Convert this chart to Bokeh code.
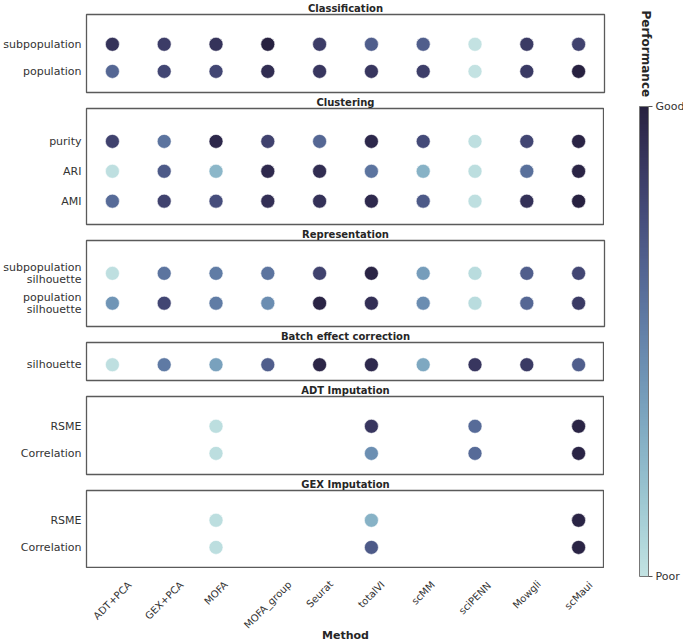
import math
from bokeh.plotting import figure
from bokeh.models import (ColumnDataSource, Range1d, FactorRange, FixedTicker,
                          LinearColorMapper, ColorBar, Label)
from bokeh.core.properties import value
from bokeh.layouts import column, row
from bokeh.embed import file_html
from bokeh.resources import INLINE

FONT = "DejaVu Sans"

methods = ["ADT+PCA", "GEX+PCA", "MOFA", "MOFA_group", "Seurat",
           "totalVI", "scMM", "sciPENN", "Mowgli", "scMaui"]

# performance score: 0 = poor, 1 = good; None = not evaluated
classification_metrics = ["subpopulation", "population"]
classification_subpopulation = [0.90, 0.85, 0.90, 1.00, 0.85, 0.68, 0.68, 0.00, 0.86, 0.82]
classification_population = [0.64, 0.80, 0.80, 0.93, 0.88, 0.88, 0.84, 0.00, 0.86, 1.00]

clustering_metrics = ["purity", "ARI", "AMI"]
clustering_purity = [0.82, 0.58, 0.96, 0.82, 0.64, 0.96, 0.78, 0.02, 0.80, 0.98]
clustering_ari = [0.02, 0.70, 0.25, 0.95, 0.93, 0.58, 0.28, 0.03, 0.60, 0.98]
clustering_ami = [0.62, 0.82, 0.76, 0.92, 0.91, 0.95, 0.70, 0.02, 0.91, 1.00]

representation_metrics = ["subpopulation\nsilhouette", "population\nsilhouette"]
representation_subpopulation_silhouette = [0.02, 0.58, 0.54, 0.58, 0.82, 0.98, 0.38, 0.04, 0.68, 0.80]
representation_population_silhouette = [0.42, 0.80, 0.54, 0.46, 0.98, 0.92, 0.46, 0.04, 0.64, 0.86]

batch_metrics = ["silhouette"]
batch_silhouette = [0.02, 0.55, 0.36, 0.68, 0.97, 0.95, 0.33, 0.88, 0.86, 0.68]

adt_metrics = ["RSME", "Correlation"]
adt_rsme = [None, None, 0.03, None, None, 0.88, None, 0.62, None, 0.98]
adt_correlation = [None, None, 0.03, None, None, 0.45, None, 0.62, None, 0.98]

gex_metrics = ["RSME", "Correlation"]
gex_rsme = [None, None, 0.03, None, None, 0.28, None, None, None, 0.98]
gex_correlation = [None, None, 0.03, None, None, 0.70, None, None, None, 0.98]

colorbar_ticks = [0, 1]
colorbar_labels = ["Poor", "Good"]


def cubehelix(n=256, start=0.2, rot=-0.3, hue=0.8, light=0.85, dark=0.15):
    out = []
    for i in range(n):
        x = light + (dark - light) * i / (n - 1)
        phi = 2 * math.pi * (start / 3 + rot * x)
        a = hue * x * (1 - x) / 2
        r = x + a * (-0.14861 * math.cos(phi) + 1.78277 * math.sin(phi))
        g = x + a * (-0.29227 * math.cos(phi) - 0.90649 * math.sin(phi))
        b = x + a * (1.97294 * math.cos(phi))
        c = [max(0, min(255, int(round(v * 255)))) for v in (r, g, b)]
        out.append("#%02x%02x%02x" % tuple(c))
    return out


def text_len_px(s, size=10.0):
    # rough DejaVu Sans advance widths (em) for label layout
    w = 0.0
    for ch in s:
        if ch in "iltrfIj":
            w += 0.36
        elif ch == "+":
            w += 0.84
        elif ch == "_":
            w += 0.5
        elif ch == "M":
            w += 0.86
        elif ch.isupper():
            w += 0.71
        else:
            w += 0.62
    return w * size


mapper = LinearColorMapper(palette=cubehelix(), low=0, high=1)

panels = [
    ("Classification", classification_metrics,
     [classification_subpopulation, classification_population], 78),
    ("Clustering", clustering_metrics,
     [clustering_purity, clustering_ari, clustering_ami], 116),
    ("Representation", representation_metrics,
     [representation_subpopulation_silhouette, representation_population_silhouette], 86),
    ("Batch effect correction", batch_metrics, [batch_silhouette], 38),
    ("ADT Imputation", adt_metrics, [adt_rsme, adt_correlation], 78),
    ("GEX Imputation", gex_metrics, [gex_rsme, gex_correlation], 78),
]

LB, FW, RB = 82, 518, 4

figs = []
for k, (title, metrics, series, fh) in enumerate(panels):
    xs, ys, vs = [], [], []
    for r, vals in enumerate(series):
        for m, v in zip(methods, vals):
            if v is not None:
                xs.append(m)
                ys.append(r)
                vs.append(v)
    src = ColumnDataSource(dict(method=xs, row=ys, score=vs))
    n = len(metrics)
    last = k == len(panels) - 1
    p = figure(x_range=FactorRange(*methods), y_range=Range1d(n - 1 + 0.78, -1.1),
               frame_width=FW, frame_height=fh, min_border_left=LB, min_border_right=RB,
               min_border_top=0, min_border_bottom=0 if last else 2,
               toolbar_location=None, output_backend="svg", title=title)
    p.scatter(x="method", y="row", source=src, size=14,
              fill_color={"field": "score", "transform": mapper},
              line_color="white", line_width=0.6)
    p.title.text_font = FONT
    p.title.text_font_size = "10px"
    p.title.text_font_style = "bold"
    p.title.align = "center"
    p.title.text_color = "#262626"
    p.title.standoff = 1
    p.title.offset = 0
    p.grid.visible = False
    p.outline_line_color = "#5a5a5a"
    p.outline_line_width = 1.3

    ya = p.yaxis[0]
    ya.ticker = FixedTicker(ticks=list(range(n)))
    ya.major_label_overrides = {i: m for i, m in enumerate(metrics)}
    ya.major_tick_line_color = None
    ya.major_tick_out = 0
    ya.minor_tick_line_color = None
    ya.axis_line_color = None
    ya.major_label_text_font = FONT
    ya.major_label_text_font_size = "11px"
    ya.major_label_text_color = "#333333"
    ya.major_label_text_line_height = 0.95
    ya.major_label_standoff = 5
    p.xaxis.visible = False
    figs.append(p)

# method labels (x axis) below the last panel, centred on each column
LH = 60
lf = figure(x_range=figs[-1].x_range, y_range=Range1d(LH, 0),
            frame_width=FW, frame_height=LH, min_border_left=LB, min_border_right=RB,
            min_border_top=0, min_border_bottom=0, toolbar_location=None,
            output_backend="svg", outline_line_color=None, y_axis_type=None)
lf.grid.visible = False
lab_y = [10 + (text_len_px(m) + 11) * 0.354 for m in methods]
lsrc = ColumnDataSource(dict(method=methods, y=lab_y))
lf.text(x="method", y="y", text="method", source=lsrc, angle=math.pi / 4,
        text_align="center", text_baseline="middle", text_font_size="10px",
        text_font=value(FONT), text_color="#333333")
xa = lf.xaxis[0]
xa.major_tick_line_color = None
xa.major_tick_out = 0
xa.major_tick_in = 0
xa.axis_line_color = None
xa.major_label_text_font_size = "1px"
xa.major_label_text_alpha = 0
xa.major_label_standoff = 0
xa.axis_label = "Method"
xa.axis_label_text_font = FONT
xa.axis_label_text_font_size = "11px"
xa.axis_label_text_font_style = "bold"
xa.axis_label_text_color = "#262626"
xa.axis_label_standoff = 0
figs.append(lf)

H = 640
cf = figure(width=75, height=H, x_range=Range1d(0, 1), y_range=Range1d(0, 1),
            min_border=0, toolbar_location=None, output_backend="svg",
            x_axis_type=None, y_axis_type=None, outline_line_color=None)
cf.grid.visible = False
cb = ColorBar(color_mapper=mapper, ticker=FixedTicker(ticks=colorbar_ticks),
              major_label_overrides={t: l for t, l in zip(colorbar_ticks, colorbar_labels)},
              width=9, height=470, location=(31, H - 576), padding=0,
              orientation="vertical", major_tick_in=0, major_tick_out=4,
              major_tick_line_color="#555555", bar_line_color="#777777",
              minor_tick_line_color=None,
              major_label_text_font=FONT, major_label_text_font_size="11px",
              major_label_text_color="#333333", label_standoff=3,
              background_fill_alpha=0, border_line_color=None)
cf.add_layout(cb)
cf.add_layout(Label(x=37, y=H - 10, x_units="screen", y_units="screen",
                    text="Performance", angle=-math.pi / 2, text_align="left",
                    text_baseline="middle", text_font=FONT, text_font_size="12px",
                    text_font_style="bold", text_color="#262626"))

layout = row(column(*figs, spacing=0), cf, spacing=0)
open("out.html", "w").write(file_html(layout, INLINE))
